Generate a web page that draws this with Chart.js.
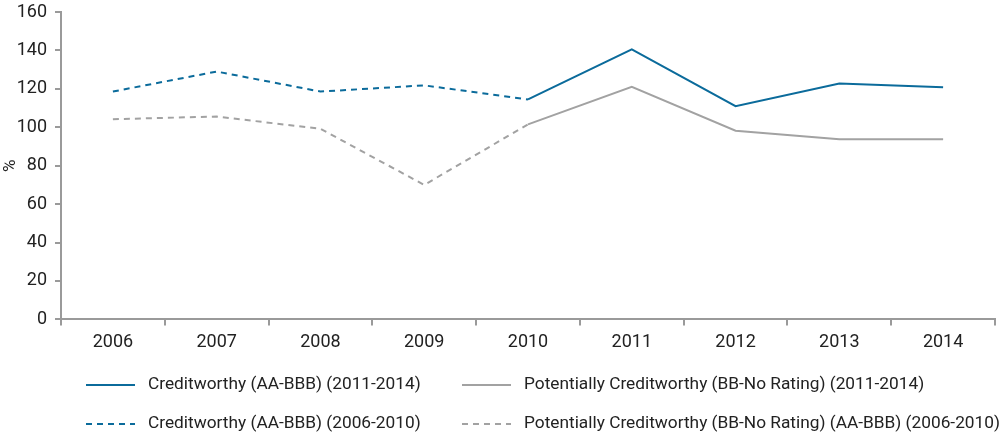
<!DOCTYPE html>
<html>
<head>
<meta charset="utf-8">
<script src="https://cdn.jsdelivr.net/npm/chart.js@4.4.0/dist/chart.umd.min.js"></script>
<style>
  html, body { margin: 0; padding: 0; background: #fff; }
  #wrap { position: relative; width: 1000px; height: 436px; }
</style>
</head>
<body>
<div id="wrap"><canvas id="chart"></canvas></div>
<script>
const years = ["2006", "2007", "2008", "2009", "2010", "2011", "2012", "2013", "2014"];

// creditworthy (AA-BBB)
const creditRecent = [null, null, null, null, 114.5, 140.5, 111, 122.8, 120.8];
const creditEarly = [118.6, 129, 118.6, 121.8, 114.5, null, null, null, null];

// potentially creditworthy (BB-No Rating)
const potentialRecent = [null, null, null, null, 101.5, 121, 98.2, 93.8, 93.8];
const potentialEarly = [104.2, 105.6, 99.2, 70, 101.5, null, null, null, null];

const yTicks = [0, 20, 40, 60, 80, 100, 120, 140, 160];

const BLUE = "#0b6b9b";
const GREY = "#a2a2a2";
const AXIS = "#9a9a9a";
const FONT = "Roboto, 'Liberation Sans', sans-serif";

const legendLayout = [
  { ds: 0, col: 0, row: 0 },
  { ds: 2, col: 1, row: 0 },
  { ds: 1, col: 0, row: 1 },
  { ds: 3, col: 1, row: 1 },
];

// two-column legend drawn under the x axis
const legendPlugin = {
  id: "gridLegend",
  afterDraw(chart) {
    const ctx = chart.ctx;
    const colX = [86, 462];
    const rowY = [385, 424];
    ctx.save();
    ctx.font = "17.3px " + FONT;
    ctx.textBaseline = "middle";
    ctx.fillStyle = "#222";
    legendLayout.forEach(item => {
      const ds = chart.data.datasets[item.ds];
      const x = colX[item.col];
      const y = rowY[item.row];
      ctx.beginPath();
      ctx.strokeStyle = ds.borderColor;
      ctx.lineWidth = 2;
      ctx.setLineDash(ds.borderDash || []);
      ctx.moveTo(x, y);
      ctx.lineTo(x + 49, y);
      ctx.stroke();
      ctx.setLineDash([]);
      ctx.fillText(ds.label, x + 62, y);
    });
    ctx.restore();
  }
};

new Chart(document.getElementById("chart"), {
  type: "line",
  data: {
    labels: years,
    datasets: [
      { label: "Creditworthy (AA-BBB) (2011-2014)", data: creditRecent, borderColor: BLUE, borderWidth: 2 },
      { label: "Creditworthy (AA-BBB) (2006-2010)", data: creditEarly, borderColor: BLUE, borderWidth: 2, borderDash: [6, 5] },
      { label: "Potentially Creditworthy (BB-No Rating) (2011-2014)", data: potentialRecent, borderColor: GREY, borderWidth: 2 },
      { label: "Potentially Creditworthy (BB-No Rating) (AA-BBB) (2006-2010)", data: potentialEarly, borderColor: GREY, borderWidth: 2, borderDash: [6, 5] },
    ],
  },
  options: {
    responsive: true,
    maintainAspectRatio: false,
    animation: false,
    layout: { padding: { top: 0, right: 5, bottom: 77, left: 0 } },
    elements: { point: { radius: 0 }, line: { tension: 0 } },
    plugins: { legend: { display: false }, tooltip: { enabled: false } },
    scales: {
      x: {
        offset: true,
        border: { color: AXIS, width: 2 },
        grid: { offset: true, drawOnChartArea: false, color: AXIS, lineWidth: 2, tickLength: 6 },
        ticks: { color: "#222", font: { family: FONT, size: 18 }, padding: 6, maxRotation: 0 },
      },
      y: {
        min: 0,
        max: 160,
        afterBuildTicks(axis) { axis.ticks = yTicks.map(v => ({ value: v })); },
        afterFit(scale) {
          scale.width = 61;
          scale.paddingTop = 12;
        },
        border: { color: AXIS, width: 2 },
        grid: { drawOnChartArea: false, color: AXIS, lineWidth: 2, tickLength: 6 },
        ticks: { color: "#222", font: { family: FONT, size: 18 }, padding: 8 },
        title: { display: true, text: "%", color: "#222", font: { family: FONT, size: 17, lineHeight: 1 }, padding: 2 },
      },
    },
  },
  plugins: [legendPlugin],
});
</script>
</body>
</html>
